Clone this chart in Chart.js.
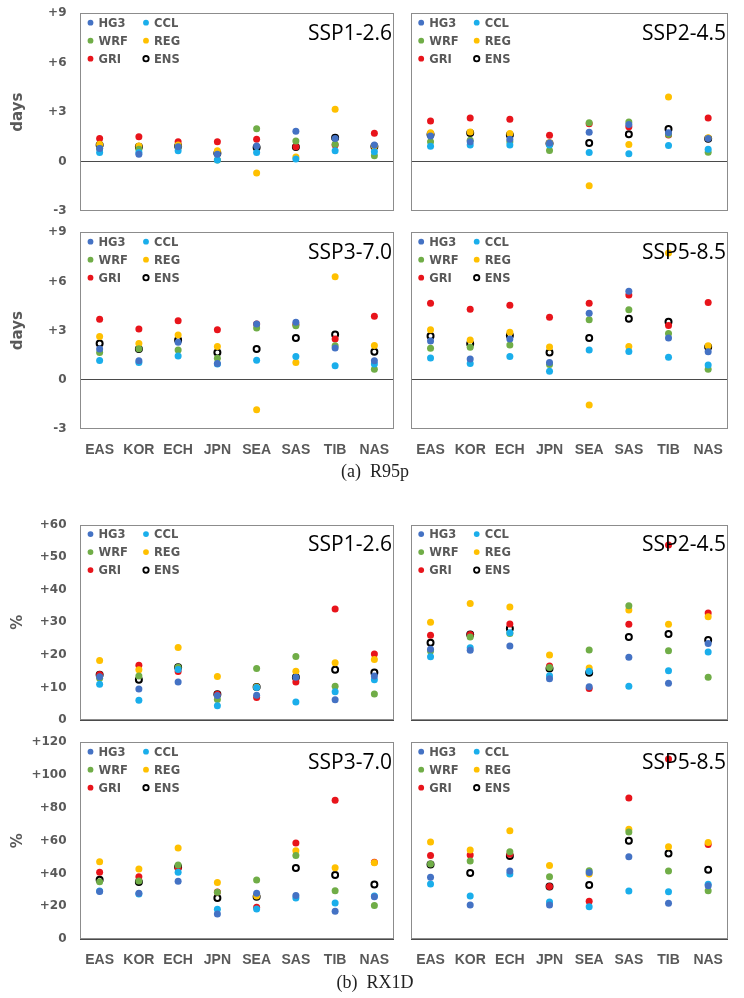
<!DOCTYPE html>
<html><head><meta charset="utf-8">
<script src="https://cdn.jsdelivr.net/npm/chart.js@4.4.0/dist/chart.umd.min.js"></script>
<style>
html,body{margin:0;padding:0;background:#fff;}
#wrap{position:relative;width:744px;height:998px;overflow:hidden;background:#fff;}
canvas{position:absolute;}
.cap{position:absolute;font-family:"Liberation Serif","Times New Roman",serif;font-size:18px;color:#222;white-space:pre;transform:translate(-50%,-50%);}
</style></head>
<body><div id="wrap">
<canvas id="c1" width="400" height="220" style="left:0;top:0"></canvas>
<canvas id="c2" width="344" height="220" style="left:400px;top:0"></canvas>
<canvas id="c3" width="400" height="250" style="left:0;top:220px"></canvas>
<canvas id="c4" width="344" height="250" style="left:400px;top:220px"></canvas>
<canvas id="c5" width="400" height="220" style="left:0;top:510px"></canvas>
<canvas id="c6" width="344" height="220" style="left:400px;top:510px"></canvas>
<canvas id="c7" width="400" height="250" style="left:0;top:730px"></canvas>
<canvas id="c8" width="344" height="250" style="left:400px;top:730px"></canvas>
<div class="cap" style="left:375px;top:471px">(a)  R95p</div>
<div class="cap" style="left:375px;top:982px">(b)  RX1D</div>
</div>
<script>
// ---------- data ----------
const categories = ['EAS','KOR','ECH','JPN','SEA','SAS','TIB','NAS'];
const seriesNames = ['HG3','CCL','WRF','REG','GRI','ENS'];
const seriesColors = ['#4472C4','#1AAEEB','#70AD47','#FFC000','#E8141B','#000000'];

const r95pTicks = [-3, 0, 3, 6, 9];
const rx1dTopTicks = [0, 10, 20, 30, 40, 50, 60];
const rx1dBotTicks = [0, 20, 40, 60, 80, 100, 120];

// R95p (days) SSP1-2.6
const r95p_126_HG3 = [0.8, 0.45, 0.9, 0.45, 0.95, 1.84, 1.4, 1.0];
const r95p_126_CCL = [0.55, 0.55, 0.65, 0.1, 0.55, 0.15, 0.65, 0.6];
const r95p_126_WRF = [0.8, 0.75, 0.85, 0.1, 2.0, 1.25, 1.05, 0.35];
const r95p_126_REG = [1.05, 0.95, 1.0, 0.65, -0.7, 0.28, 3.17, 0.95];
const r95p_126_GRI = [1.4, 1.5, 1.2, 1.2, 1.35, 0.9, 1.0, 1.72];
const r95p_126_ENS = [1.0, 0.9, 0.95, 0.5, 0.85, 0.88, 1.45, 0.92];
// R95p SSP2-4.5
const r95p_245_HG3 = [1.55, 1.2, 1.35, 1.12, 1.78, 2.25, 1.75, 1.4];
const r95p_245_CCL = [0.93, 1.0, 1.0, 1.0, 0.55, 0.48, 0.97, 0.75];
const r95p_245_WRF = [1.2, 1.3, 1.2, 0.67, 2.35, 2.4, 1.65, 0.57];
const r95p_245_REG = [1.75, 1.8, 1.7, 1.15, -1.47, 1.03, 3.92, 1.45];
const r95p_245_GRI = [2.46, 2.65, 2.57, 1.6, 2.3, 2.12, 1.62, 2.65];
const r95p_245_ENS = [1.65, 1.73, 1.62, 1.1, 1.13, 1.66, 1.98, 1.39];
// R95p SSP3-7.0
const r95p_370_HG3 = [1.88, 1.16, 2.29, 1.0, 3.4, 3.51, 1.94, 1.16];
const r95p_370_CCL = [1.18, 1.06, 1.45, 0.96, 1.2, 1.43, 0.86, 0.96];
const r95p_370_WRF = [1.67, 1.9, 1.82, 1.31, 3.16, 3.3, 2.08, 0.65];
const r95p_370_REG = [2.65, 2.22, 2.73, 2.04, -1.82, 1.06, 6.29, 2.1];
const r95p_370_GRI = [3.69, 3.1, 3.61, 3.06, 3.41, 3.37, 2.49, 3.88];
const r95p_370_ENS = [2.22, 1.88, 2.43, 1.67, 1.88, 2.55, 2.76, 1.71];
// R95p SSP5-8.5
const r95p_585_HG3 = [2.37, 1.27, 2.49, 1.05, 4.06, 5.41, 2.55, 1.71];
const r95p_585_CCL = [1.33, 1.0, 1.43, 0.53, 1.82, 1.73, 1.37, 0.9];
const r95p_585_WRF = [1.92, 1.98, 2.12, 0.94, 3.67, 4.27, 2.82, 0.65];
const r95p_585_REG = [3.06, 2.43, 2.9, 2.0, -1.53, 2.04, 7.73, 2.08];
const r95p_585_GRI = [4.67, 4.31, 4.55, 3.82, 4.67, 5.18, 3.31, 4.71];
const r95p_585_ENS = [2.67, 2.2, 2.71, 1.67, 2.55, 3.73, 3.55, 2.0];

// RX1D (%) SSP1-2.6
const rx1d_126_HG3 = [13.3, 9.5, 11.7, 7.5, 7.6, 13.1, 6.2, 13.5];
const rx1d_126_CCL = [11.0, 6.1, 15.5, 4.4, 10.0, 5.5, 8.7, 12.4];
const rx1d_126_WRF = [12.8, 13.5, 16.2, 6.3, 15.8, 19.5, 10.4, 8.0];
const rx1d_126_REG = [18.3, 15.4, 22.3, 13.4, 10.1, 15.0, 17.6, 18.6];
const rx1d_126_GRI = [14.0, 16.8, 14.9, 7.9, 6.9, 11.7, 34.1, 20.3];
const rx1d_126_ENS = [13.9, 12.4, 16.2, 7.9, 10.1, 13.1, 15.4, 14.6];
// RX1D SSP2-4.5
const rx1d_245_HG3 = [21.7, 21.4, 22.7, 12.7, 10.2, 19.3, 11.3, 23.5];
const rx1d_245_CCL = [19.4, 22.2, 26.8, 13.6, 15.0, 10.4, 15.1, 20.9];
const rx1d_245_WRF = [21.2, 25.5, 26.6, 16.1, 21.5, 35.1, 21.3, 13.1];
const rx1d_245_REG = [30.0, 35.8, 34.7, 20.0, 16.0, 33.8, 29.4, 31.7];
const rx1d_245_GRI = [26.0, 26.3, 29.5, 16.6, 9.7, 29.4, 53.8, 32.9];
const rx1d_245_ENS = [23.7, 26.3, 28.1, 15.8, 14.5, 25.5, 26.4, 24.6];
// RX1D SSP3-7.0
const rx1d_370_HG3 = [29.0, 27.9, 35.2, 15.3, 27.9, 26.6, 16.9, 25.8];
const rx1d_370_CCL = [29.3, 27.5, 40.7, 18.1, 18.3, 25.0, 22.0, 26.2];
const rx1d_370_WRF = [35.0, 35.4, 45.1, 28.5, 36.0, 51.0, 29.5, 20.5];
const rx1d_370_REG = [47.2, 42.7, 55.5, 34.4, 26.2, 53.9, 43.5, 46.5];
const rx1d_370_GRI = [40.7, 38.0, 43.1, 28.7, 19.3, 58.6, 84.6, 46.8];
const rx1d_370_ENS = [36.2, 34.8, 43.9, 25.0, 25.8, 43.3, 39.0, 33.2];
// RX1D SSP5-8.5
const rx1d_585_HG3 = [37.6, 20.7, 41.5, 20.7, 40.5, 50.2, 21.8, 32.5];
const rx1d_585_CCL = [33.6, 26.2, 39.7, 22.6, 19.7, 29.3, 28.9, 33.4];
const rx1d_585_WRF = [45.8, 47.6, 53.3, 38.0, 41.7, 65.3, 41.5, 29.5];
const rx1d_585_REG = [59.2, 54.3, 66.1, 44.9, 39.7, 66.9, 56.3, 58.8];
const rx1d_585_GRI = [51.0, 51.3, 51.7, 32.1, 23.0, 86.0, 109.8, 57.6];
const rx1d_585_ENS = [45.4, 40.3, 50.6, 32.1, 32.9, 60.0, 52.1, 42.3];

// ---------- drawing ----------
const GREY = '#595959';
const decorPlugin = {
  id: 'panelDecor',
  afterDatasetsDraw(chart, args, o) {
    const ctx = chart.ctx, a = chart.chartArea;
    ctx.save();
    // frame
    ctx.strokeStyle = '#8c8c8c';
    ctx.lineWidth = 1;
    const x0 = Math.round(a.left) + 0.5, y0 = Math.round(a.top) + 0.5;
    const x1 = Math.round(a.right) - 0.5, y1 = Math.round(a.bottom) - 0.5;
    ctx.strokeRect(x0, y0, x1 - x0, y1 - y0);
    // legend
    ctx.font = 'bold 11.5px "DejaVu Sans"';
    ctx.textAlign = 'left';
    ctx.textBaseline = 'alphabetic';
    chart.data.datasets.forEach((ds, i) => {
      const col = i % 2, row = Math.floor(i / 2);
      const cx = a.left + (col ? 66 : 10.5);
      const cy = a.top + 9.4 + row * 18;
      ctx.beginPath();
      if (ds.label === 'ENS') {
        ctx.arc(cx, cy, 2.7, 0, Math.PI * 2);
        ctx.strokeStyle = '#000'; ctx.lineWidth = 1.8; ctx.stroke();
      } else {
        ctx.arc(cx, cy, 2.9, 0, Math.PI * 2);
        ctx.fillStyle = ds.pointBackgroundColor; ctx.fill();
      }
      ctx.fillStyle = GREY;
      ctx.fillText(ds.label, cx + 8, cy + 4.2);
    });
    // scenario label
    ctx.font = '21px "Open Sans"';
    ctx.fillStyle = '#000';
    ctx.textAlign = 'right';
    ctx.fillText(o.scenario, a.right - 2, a.top + 26.5);
    ctx.restore();
  }
};

function makePanel(id, p) {
  const datasets = seriesNames.map((name, i) => {
    const ens = name === 'ENS';
    return {
      label: name,
      data: p.data[i],
      showLine: false,
      pointRadius: ens ? 3 : 3.5,
      pointBorderWidth: ens ? 2 : 0,
      pointBackgroundColor: ens ? 'rgba(0,0,0,0)' : seriesColors[i],
      pointBorderColor: ens ? '#000' : seriesColors[i],
      borderColor: seriesColors[i],
      backgroundColor: seriesColors[i]
    };
  });
  new Chart(document.getElementById(id), {
    type: 'line',
    data: { labels: categories, datasets },
    options: {
      responsive: false,
      animation: false,
      events: [],
      layout: { padding: p.padding },
      plugins: { legend: { display: false }, tooltip: { enabled: false }, panelDecor: { scenario: p.scenario } },
      scales: {
        x: {
          type: 'category', offset: true,
          grid: { display: false, drawTicks: false }, border: { display: false },
          ticks: { display: p.showX, font: { family: '"Liberation Sans", Arial, sans-serif', size: 14, weight: 'bold' },
                   color: GREY, padding: 12.5, maxRotation: 0, autoSkip: false },
          afterFit: s => { s.height = p.xHeight; s.paddingLeft = 0; s.paddingRight = 0; }
        },
        y: {
          min: p.ticks[0], max: p.ticks[p.ticks.length - 1],
          afterBuildTicks: s => { s.ticks = p.ticks.map(v => ({ value: v })); },
          ticks: { display: p.showY, callback: v => (v > 0 ? '+' + v : String(v)),
                   font: { family: '"DejaVu Sans"', size: 12, weight: 'bold' }, color: GREY, padding: 13.5 },
          grid: { drawTicks: false, lineWidth: 1,
                  color: c => (c.tick && c.tick.value === 0 ? '#4a4a4a' : 'rgba(0,0,0,0)') },
          border: { display: false },
          title: { display: p.showY, text: p.yTitle, color: GREY,
                   font: { family: '"DejaVu Sans"', size: 15, weight: 'bold' }, padding: { top: 9, bottom: 0 } },
          afterFit: s => { s.width = p.yWidth; s.paddingTop = 0; s.paddingBottom = 0; }
        }
      }
    },
    plugins: [decorPlugin]
  });
}

const L = { yWidth: 80, showY: true };
const R = { yWidth: 10.7, showY: false };

makePanel('c1', Object.assign({}, L, { padding: { top: 13.3, bottom: 9, left: 0, right: 6 }, xHeight: 0, showX: false,
  ticks: r95pTicks, yTitle: 'days', scenario: 'SSP1-2.6',
  data: [r95p_126_HG3, r95p_126_CCL, r95p_126_WRF, r95p_126_REG, r95p_126_GRI, r95p_126_ENS] }));
makePanel('c2', Object.assign({}, R, { padding: { top: 13.3, bottom: 9, left: 0, right: 16 }, xHeight: 0, showX: false,
  ticks: r95pTicks, yTitle: 'days', scenario: 'SSP2-4.5',
  data: [r95p_245_HG3, r95p_245_CCL, r95p_245_WRF, r95p_245_REG, r95p_245_GRI, r95p_245_ENS] }));
makePanel('c3', Object.assign({}, L, { padding: { top: 12.3, bottom: 0, left: 0, right: 6 }, xHeight: 41, showX: true,
  ticks: r95pTicks, yTitle: 'days', scenario: 'SSP3-7.0',
  data: [r95p_370_HG3, r95p_370_CCL, r95p_370_WRF, r95p_370_REG, r95p_370_GRI, r95p_370_ENS] }));
makePanel('c4', Object.assign({}, R, { padding: { top: 12.3, bottom: 0, left: 0, right: 16 }, xHeight: 41, showX: true,
  ticks: r95pTicks, yTitle: 'days', scenario: 'SSP5-8.5',
  data: [r95p_585_HG3, r95p_585_CCL, r95p_585_WRF, r95p_585_REG, r95p_585_GRI, r95p_585_ENS] }));
makePanel('c5', Object.assign({}, L, { padding: { top: 14.7, bottom: 10, left: 0, right: 6 }, xHeight: 0, showX: false,
  ticks: rx1dTopTicks, yTitle: '%', scenario: 'SSP1-2.6',
  data: [rx1d_126_HG3, rx1d_126_CCL, rx1d_126_WRF, rx1d_126_REG, rx1d_126_GRI, rx1d_126_ENS] }));
makePanel('c6', Object.assign({}, R, { padding: { top: 14.7, bottom: 10, left: 0, right: 16 }, xHeight: 0, showX: false,
  ticks: rx1dTopTicks, yTitle: '%', scenario: 'SSP2-4.5',
  data: [rx1d_245_HG3, rx1d_245_CCL, rx1d_245_WRF, rx1d_245_REG, rx1d_245_GRI, rx1d_245_ENS] }));
makePanel('c7', Object.assign({}, L, { padding: { top: 12.3, bottom: 0, left: 0, right: 6 }, xHeight: 41, showX: true,
  ticks: rx1dBotTicks, yTitle: '%', scenario: 'SSP3-7.0',
  data: [rx1d_370_HG3, rx1d_370_CCL, rx1d_370_WRF, rx1d_370_REG, rx1d_370_GRI, rx1d_370_ENS] }));
makePanel('c8', Object.assign({}, R, { padding: { top: 12.3, bottom: 0, left: 0, right: 16 }, xHeight: 41, showX: true,
  ticks: rx1dBotTicks, yTitle: '%', scenario: 'SSP5-8.5',
  data: [rx1d_585_HG3, rx1d_585_CCL, rx1d_585_WRF, rx1d_585_REG, rx1d_585_GRI, rx1d_585_ENS] }));
</script>
</body></html>
